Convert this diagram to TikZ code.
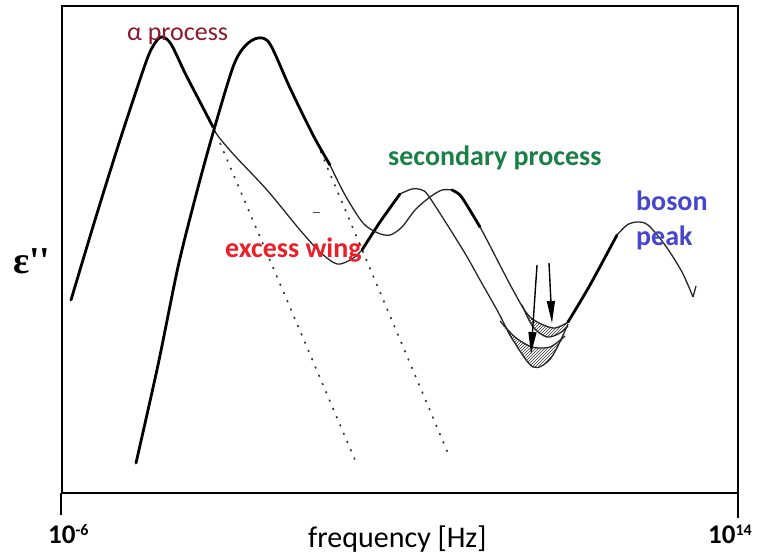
\documentclass[tikz,border=0pt]{standalone}
\usepackage{fontspec}
\setmainfont{Carlito}
\newfontfamily\epsfont[Ligatures=TeXOff]{Liberation Serif}
\usetikzlibrary{arrows.meta,patterns}
\definecolor{alphared}{RGB}{140,24,44}
\definecolor{wingred}{RGB}{236,30,40}
\definecolor{secgreen}{RGB}{26,128,70}
\definecolor{bosonblue}{RGB}{70,70,205}

\begin{document}
\begin{tikzpicture}
	[x=1pt,y=-1pt,
	axisframe/.style ={draw, line width=2.6pt},
	thickcurve/.style ={draw, line width=2.8pt, line cap=round, line join=round},
	thincurve/.style ={draw, line width=1.3pt, black!85},
	dotline/.style ={draw, line width=1.6pt, black!80, dash pattern=on 2pt off 7pt},
	proclabel/.style ={inner sep=0pt, anchor=base west, font=\fontsize{28}{34}\selectfont\bfseries},
	ticklabel/.style ={inner sep=0pt, anchor=base west, font=\fontsize{27}{32}\selectfont\bfseries},
	arrowline/.style ={draw, line width=1.4pt, -{Triangle[length=22pt,width=8pt]}},
	band/.style ={pattern=north east lines, pattern color=black!80},
	]

	\useasboundingbox (0,0) rectangle (759,557);

	% axes
	\draw[axisframe] (62,6) rectangle (738,493);
	\draw[axisframe] (61,493) -- (61,515);
	\draw[axisframe] (738,493) -- (738,518);

	% dotted extrapolations of the alpha peaks
	\coordinate (d1s) at (220,143);
	\coordinate (d1e) at (355,460);
	\coordinate (d2s) at (317,143);
	\coordinate (d2e) at (450,458);
	\path[dotline] (d1s) -- (d1e);
	\path[dotline] (d2s) -- (d2e);
	\draw[line width=1pt, black!70] (313,212) -- (320,212);

	% hatched bands at the minimum
	\path[band] plot[smooth] coordinates {(500,321) (515,337) (532,347) (550,347) (565,336)}
		-- plot[smooth] coordinates {(565,334) (551,358) (533,367) (518,349) (500,321)} -- cycle;
	\path[band] plot[smooth] coordinates {(522,305) (530,317) (553,328) (568,322)}
		-- plot[smooth] coordinates {(568,326) (560,333) (547,337) (533,327) (522,305)} -- cycle;

	% low temperature curve
	\path[thickcurve] plot[smooth] coordinates {(71,300) (95,220) (120,140) (146,62) (155,43) (162,37) (171,44) (185,73) (199,100) (213,127)};
	\path[thincurve] plot[smooth] coordinates {(213,127) (218,136) (235,156) (267,190) (300,230) (320,252) (337,264) (352,259) (362,250)};
	\path[thickcurve] plot[smooth] coordinates {(362,250) (380,222) (400,194)};
	\path[thincurve] plot[smooth] coordinates {(400,194) (412,189) (422,190) (430,198) (463,250) (480,280) (497,310) (513,340) (533,367) (551,358) (568,324)};

	% high temperature curve
	\path[thickcurve] plot[smooth] coordinates {(136,463) (158,365) (178,267) (196,195) (213,133) (233,67) (245,46) (258,38) (270,44) (290,88) (313,135) (330,165)};
	\path[thincurve] plot[smooth] coordinates {(330,165) (345,195) (363,223) (378,233) (390,235) (402,227) (415,210) (430,197) (442,190) (452,190)};
	\path[thickcurve] plot[smooth] coordinates {(452,190) (460,195) (468,207) (480,227)};
	\path[thincurve] plot[smooth] coordinates {(480,227) (487,240) (513,290) (530,317) (553,328) (568,322)};

	% intermediate curves
	\path[thincurve] plot[smooth] coordinates {(500,321) (515,337) (532,347) (550,347) (565,336)};
	\path[thincurve] plot[smooth] coordinates {(522,305) (533,327) (547,337) (560,333) (568,326)};

	% boson peak
	\path[thickcurve] plot[smooth] coordinates {(568,322) (590,285) (617,235)};
	\path[thincurve] plot[smooth] coordinates {(617,235) (627,225) (637,222) (648,225) (665,245) (682,272) (693,297)};
	\draw[thincurve] (693,297) -- (696,286);

	% arrows
	\coordinate (a1s) at (537,265);
	\coordinate (a1e) at (531,354);
	\coordinate (a2s) at (549,263);
	\coordinate (a2e) at (552,323);
	\path[arrowline] (a1s) -- (a1e);
	\path[arrowline] (a2s) -- (a2e);

	% labels
	\draw (127,40) node[proclabel, font=\fontsize{26}{30}\selectfont, text=alphared] (alpha) {α process};
	\draw (225,257) node[proclabel, text=wingred] (wing) {excess wing};
	\draw (388,165) node[proclabel, text=secgreen] (secondary) {secondary process};
	\draw (636,210) node[proclabel, text=bosonblue] (boson) {boson};
	\draw (636,245) node[proclabel, text=bosonblue] (peak) {peak};
	\draw (308,547) node[proclabel, font=\fontsize{30}{36}\selectfont] (freq) {frequency [Hz]};
	\draw (48,543) node[ticklabel] (xmin) {10\raisebox{8pt}{\fontsize{16}{18}\selectfont -6}};
	\draw (708,543) node[ticklabel] (xmax) {10\raisebox{8pt}{\fontsize{16}{18}\selectfont 14}};
	\draw (13,273) node[inner sep=0pt, anchor=base west, font=\fontsize{38}{44}\epsfont\bfseries] (eps) {ε''};

\end{tikzpicture}
\end{document}
